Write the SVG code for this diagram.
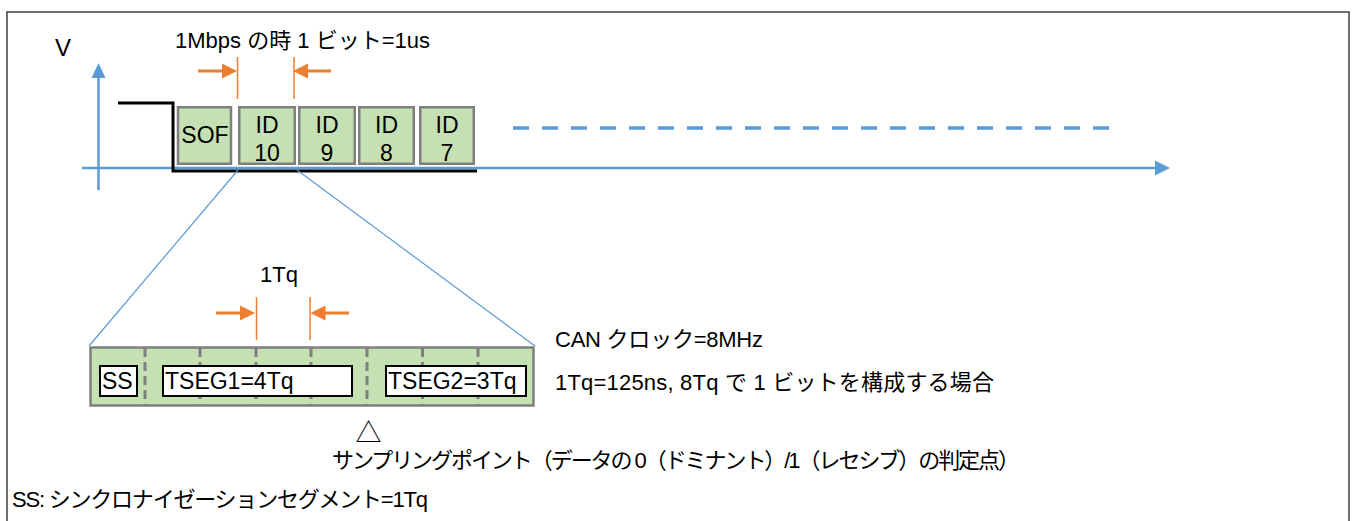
<svg xmlns="http://www.w3.org/2000/svg" width="1353" height="521" viewBox="0 0 1353 521">
  <style>
    text { font-family: "Liberation Sans", "Noto Sans CJK JP", sans-serif; fill: #000; }
    .lbl { font-size: 22px; }
    .box { font-size: 23px; text-anchor: middle; }
    .bit { fill: #c5e0b3; stroke: #7f7f7f; stroke-width: 2.5; }
    .wbox { fill: #fff; stroke: #000; stroke-width: 2; }
    .ax { stroke: #5b9bd5; stroke-width: 2.5; fill: none; }
    .axh { fill: #5b9bd5; }
    .or { stroke: #ed7d31; fill: none; }
    .orh { fill: #ed7d31; }
    .div { stroke: #7f7f7f; stroke-width: 3; stroke-dasharray: 9 5; }
    .zoom { stroke: #5b9bd5; stroke-width: 1.2; fill: none; }
  </style>

  <rect x="7" y="12" width="1342" height="530" fill="#fff" stroke="#404040" stroke-width="1.5"/>

  <g id="axes">
    <line class="ax" x1="98.5" y1="76" x2="98.5" y2="190"/>
    <polygon class="axh" points="98.5,63 91.5,78 105.5,78"/>
    <line class="ax" x1="82" y1="168" x2="1157" y2="168"/>
    <polygon class="axh" points="1170,168 1155,160.5 1155,175.5"/>
    <line x1="513" y1="128" x2="1110" y2="128" stroke="#5b9bd5" stroke-width="3.5" stroke-dasharray="16 13"/>
    <text x="55" y="56" style="font-size:24px">V</text>
  </g>

  <g id="signal">
    <polyline points="118,103 173,103 173,171 477,171" fill="none" stroke="#000" stroke-width="3"/>
  </g>

  <g id="bit-sof">
    <rect class="bit" x="178" y="107.25" width="53" height="56.5"/>
    <text class="box" x="205" y="143">SOF</text>
  </g>
  <g id="bit-id10">
    <rect class="bit" x="239.25" y="107.25" width="55.5" height="56.5"/>
    <text class="box" x="267" y="133">ID</text>
    <text class="box" x="267" y="161">10</text>
  </g>
  <g id="bit-id9">
    <rect class="bit" x="299.25" y="107.25" width="55.5" height="56.5"/>
    <text class="box" x="327" y="133">ID</text>
    <text class="box" x="327" y="161">9</text>
  </g>
  <g id="bit-id8">
    <rect class="bit" x="359.25" y="107.25" width="54.5" height="56.5"/>
    <text class="box" x="386.5" y="133">ID</text>
    <text class="box" x="386.5" y="161">8</text>
  </g>
  <g id="bit-id7">
    <rect class="bit" x="420.25" y="107.25" width="53.5" height="56.5"/>
    <text class="box" x="447" y="133">ID</text>
    <text class="box" x="447" y="161">7</text>
  </g>

  <g id="bit-width">
    <text class="lbl" x="175" y="48" textLength="255">1Mbps の時 1 ビット=1us</text>
    <line class="or" x1="237.5" y1="57" x2="237.5" y2="99" stroke-width="1.5"/>
    <line class="or" x1="294" y1="57" x2="294" y2="99" stroke-width="1.5"/>
    <line class="or" x1="198" y1="71" x2="224" y2="71" stroke-width="3"/>
    <polygon class="orh" points="237,71 222,63.5 222,78.5"/>
    <line class="or" x1="306" y1="71" x2="331" y2="71" stroke-width="3"/>
    <polygon class="orh" points="293,71 308,63.5 308,78.5"/>
  </g>

  <g id="connectors">
    <line class="zoom" x1="238" y1="170" x2="89" y2="346"/>
    <line class="zoom" x1="297" y1="170" x2="535" y2="346"/>
  </g>

  <g id="bit-detail">
    <rect class="bit" x="90.5" y="347.5" width="443" height="58" stroke-width="3"/>
    <line class="div" x1="145" y1="348" x2="145" y2="405"/>
    <line class="div" x1="200" y1="348" x2="200" y2="405"/>
    <line class="div" x1="256" y1="348" x2="256" y2="405"/>
    <line class="div" x1="311" y1="348" x2="311" y2="405"/>
    <line class="div" x1="367" y1="348" x2="367" y2="405"/>
    <line class="div" x1="422.5" y1="348" x2="422.5" y2="405"/>
    <line class="div" x1="478" y1="348" x2="478" y2="405"/>
  </g>
  <g id="ss">
    <rect class="wbox" x="100" y="366" width="37" height="30"/>
    <text x="102" y="389" style="font-size:23px">SS</text>
  </g>
  <g id="tseg1">
    <rect class="wbox" x="163" y="366" width="189" height="30"/>
    <text x="165" y="389" style="font-size:23px">TSEG1=4Tq</text>
  </g>
  <g id="tseg2">
    <rect class="wbox" x="386" y="366" width="140" height="30"/>
    <text x="388" y="389" style="font-size:23px">TSEG2=3Tq</text>
  </g>

  <g id="tq-width">
    <text class="lbl" x="260" y="282">1Tq</text>
    <line class="or" x1="256.5" y1="297" x2="256.5" y2="340" stroke-width="1.5"/>
    <line class="or" x1="310" y1="297" x2="310" y2="340" stroke-width="1.5"/>
    <line class="or" x1="216" y1="313" x2="242" y2="313" stroke-width="3"/>
    <polygon class="orh" points="255,313 240,305.5 240,320.5"/>
    <line class="or" x1="323" y1="313" x2="349" y2="313" stroke-width="3"/>
    <polygon class="orh" points="310.5,313 325.5,305.5 325.5,320.5"/>
  </g>

  <g id="notes">
    <text class="lbl" x="555" y="347" textLength="208">CAN クロック=8MHz</text>
    <text class="lbl" x="555" y="390" textLength="439">1Tq=125ns, 8Tq で 1 ビットを構成する場合</text>
  </g>

  <g id="sampling-point">
    <text x="368.5" y="442" style="font-size:26px" text-anchor="middle">△</text>
    <text class="lbl" x="332" y="468" textLength="688">サンプリングポイント（データの 0（ドミナント）/1（レセシブ）の判定点）</text>
  </g>

  <g id="legend">
    <text class="lbl" x="12" y="507" textLength="416">SS: シンクロナイゼーションセグメント=1Tq</text>
  </g>
</svg>
